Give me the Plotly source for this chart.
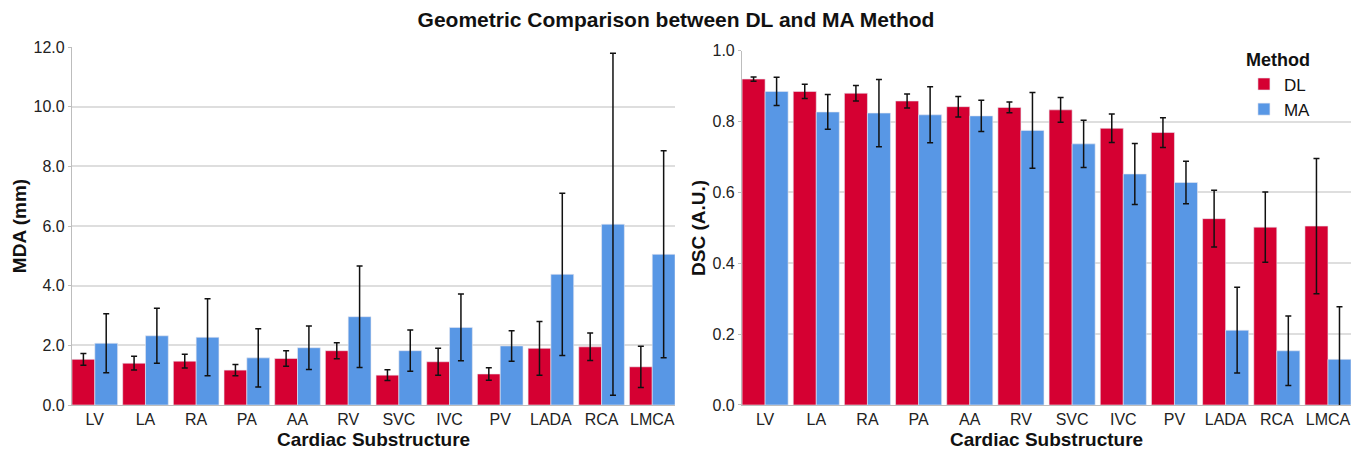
import plotly.graph_objects as go
from plotly.subplots import make_subplots

categories = ["LV", "LA", "RA", "PA", "AA", "RV", "SVC", "IVC", "PV", "LADA", "RCA", "LMCA"]

mda_dl = [1.53, 1.40, 1.47, 1.17, 1.56, 1.82, 1.00, 1.45, 1.04, 1.90, 1.95, 1.28]
mda_dl_err = [0.20, 0.23, 0.23, 0.19, 0.26, 0.27, 0.18, 0.45, 0.21, 0.90, 0.46, 0.69]
mda_ma = [2.07, 2.32, 2.27, 1.58, 1.92, 2.96, 1.82, 2.60, 1.98, 4.38, 6.06, 5.05]
mda_ma_err = [0.99, 0.92, 1.29, 0.98, 0.73, 1.70, 0.69, 1.12, 0.51, 2.72, 5.73, 3.47]

dsc_dl = [0.920, 0.885, 0.880, 0.858, 0.842, 0.840, 0.833, 0.781, 0.769, 0.526, 0.502, 0.505]
dsc_dl_err = [0.006, 0.020, 0.022, 0.020, 0.029, 0.015, 0.035, 0.040, 0.042, 0.080, 0.099, 0.191]
dsc_ma = [0.885, 0.827, 0.824, 0.819, 0.816, 0.775, 0.737, 0.652, 0.628, 0.211, 0.153, 0.129]
dsc_ma_err = [0.040, 0.049, 0.095, 0.079, 0.044, 0.107, 0.067, 0.086, 0.060, 0.121, 0.098, 0.148]

RED = "#D50032"
BLUE = "#5897E5"
FONT = "Liberation Sans, Arial, sans-serif"

fig = make_subplots(rows=1, cols=2, horizontal_spacing=0.05)

def err(vals):
    return dict(type="data", array=vals, visible=True, color="#111111", thickness=1.5, width=3)

fig.add_trace(go.Bar(x=categories, y=mda_dl, error_y=err(mda_dl_err), name="DL",
                     marker=dict(color=RED, line=dict(color="#E8E8F0", width=0.6)),
                     legendgroup="DL", showlegend=True), row=1, col=1)
fig.add_trace(go.Bar(x=categories, y=mda_ma, error_y=err(mda_ma_err), name="MA",
                     marker=dict(color=BLUE, line=dict(color="#E8E8F0", width=0.6)),
                     legendgroup="MA", showlegend=True), row=1, col=1)
fig.add_trace(go.Bar(x=categories, y=dsc_dl, error_y=err(dsc_dl_err), name="DL",
                     marker=dict(color=RED, line=dict(color="#E8E8F0", width=0.6)),
                     legendgroup="DL", showlegend=False), row=1, col=2)
fig.add_trace(go.Bar(x=categories, y=dsc_ma, error_y=err(dsc_ma_err), name="MA",
                     marker=dict(color=BLUE, line=dict(color="#E8E8F0", width=0.6)),
                     legendgroup="MA", showlegend=False), row=1, col=2)

axis_common = dict(
    showline=True, linecolor="#BDBDBD", linewidth=1.2,
    tickfont=dict(family=FONT, size=16, color="#222222"),
    title_font=dict(family=FONT, size=19, color="#111111"),
)

fig.update_xaxes(type="category", range=[-0.45, 11.45], showgrid=False, ticks="",
                 title_text="<b>Cardiac Substructure</b>", title_standoff=5, **axis_common)
fig.update_xaxes(domain=[0.0, 0.4715], row=1, col=1)
fig.update_xaxes(domain=[0.5239, 1.0], row=1, col=2)

fig.update_yaxes(showgrid=True, gridcolor="#DEDEDE", gridwidth=1.5, zeroline=False,
                 ticks="outside", ticklen=3, tickcolor="#BDBDBD", **axis_common)
fig.update_yaxes(range=[0, 12], tickvals=[0, 2, 4, 6, 8, 10, 12], tickformat=".1f",
                 title_text="<b>MDA (mm)</b>", title_standoff=1, domain=[0, 1], row=1, col=1)
fig.update_yaxes(range=[0, 1], tickvals=[0, 0.2, 0.4, 0.6, 0.8, 1.0], tickformat=".1f",
                 title_text="<b>DSC (A.U.)</b>", title_standoff=1, domain=[0, 0.9897], row=1, col=2)

fig.update_layout(
    width=1352, height=457,
    margin=dict(l=72, r=1, t=47, b=52),
    paper_bgcolor="white", plot_bgcolor="white",
    barmode="group", bargap=0.1, bargroupgap=0.0,
    font=dict(family=FONT, color="#111111"),
    title=dict(text="<b>Geometric Comparison between DL and MA Method</b>",
               x=0.5, xanchor="center", y=0.956, yanchor="middle",
               font=dict(family=FONT, size=21, color="#111111")),
    legend=dict(x=0.9163, y=1.011, xanchor="left", yanchor="top",
                title=dict(text="<b>Method</b>", font=dict(family=FONT, size=18, color="#111111")),
                font=dict(family=FONT, size=17, color="#111111"),
                bgcolor="rgba(0,0,0,0)", itemwidth=30, tracegroupgap=0),
)

fig.write_html("out.html", config={"displayModeBar": False},
               post_script="document.body.style.margin='0px';document.body.style.overflow='hidden';")
